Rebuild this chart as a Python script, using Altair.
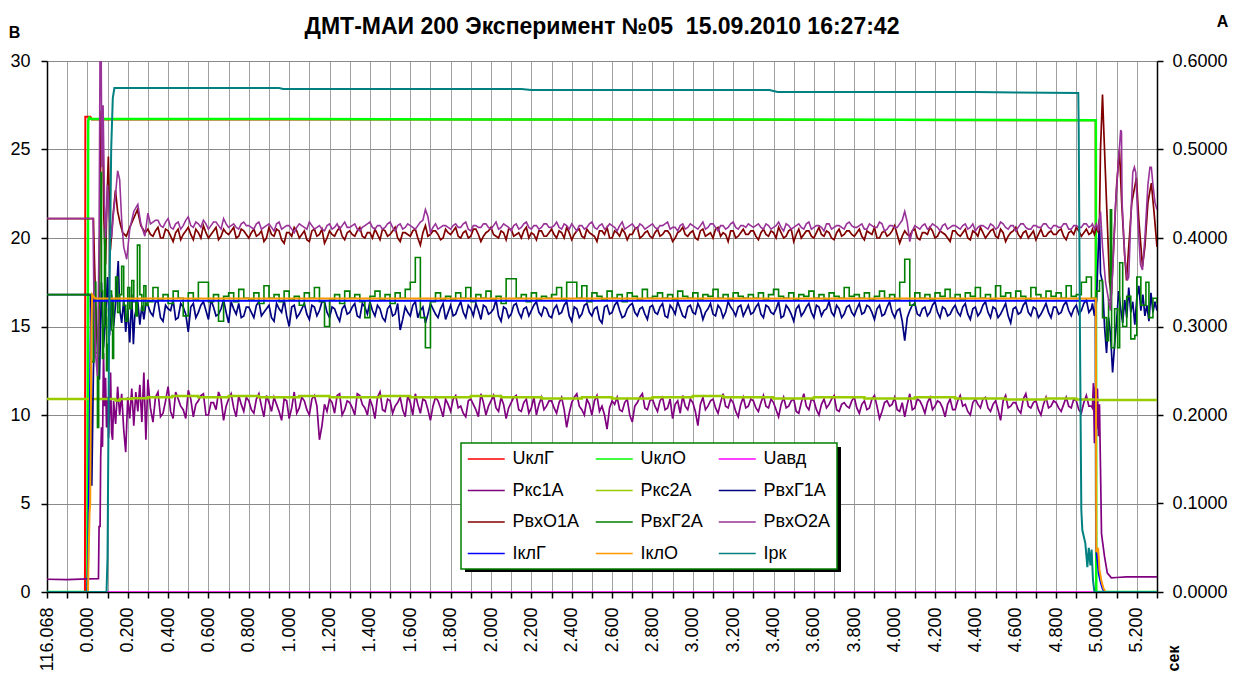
import json
import altair as alt
import pandas as pd

FONT = "Liberation Sans"
TITLE = "ДМТ-МАИ 200 Эксперимент №05\u00a0 15.09.2010 16:27:42"

NAMES = ["UклГ", "UклО", "Uавд", "Ркс1А", "Ркс2А", "РвхГ1А",
         "РвхО1А", "РвхГ2А", "РвхО2А", "IклГ", "IклО", "Iрк"]
COLORS = ["#FF0000", "#00FF00", "#FF00FF", "#800080", "#99CC00", "#000080",
          "#800000", "#008000", "#993399", "#0000FF", "#FF9900", "#008080"]
WIDTHS = [2, 2.5, 1.5, 1.7, 2.5, 1.7, 1.7, 1.6, 1.6, 2, 2, 2]
STEP_SERIES = ["Ркс2А", "РвхГ2А"]
RIGHT_SERIES = ["IклГ", "IклО", "Iрк"]

# x ticks (s) and the labels printed on them
X_TICKS = [round(-0.2 + 0.1 * i, 1) for i in range(56)]
X_LABEL_POS = [-0.2, 0.0, 0.2, 0.4, 0.6, 0.8, 1.0, 1.2, 1.4, 1.6, 1.8, 2.0, 2.2, 2.4,
               2.6, 2.8, 3.0, 3.2, 3.4, 3.6, 3.8, 4.0, 4.2, 4.4, 4.6, 4.8, 5.0, 5.2]
X_TICK_LABELS = ["116.068", "0.000", "0.200", "0.400", "0.600", "0.800", "1.000",
                 "1.200", "1.400", "1.600", "1.800", "2.000", "2.200", "2.400",
                 "2.600", "2.800", "3.000", "3.200", "3.400", "3.600", "3.800",
                 "4.000", "4.200", "4.400", "4.600", "4.800", "5.000", "5.200"]
Y_LEFT_TICKS = [0, 5, 10, 15, 20, 25, 30]
Y_RIGHT_TICKS = [0.0, 0.1, 0.2, 0.3, 0.4, 0.5, 0.6]

# ---- (t, value) points: start transients and end transients ----
UKLG = [(-0.2, 0), (-0.012, 0), (-0.01, 26.85), (0.015, 26.85), (0.022, 26.7),
        (2.5, 26.7), (4.996, 26.65), (4.998, 0), (5.3, 0)]
UKLO = [(-0.2, 0), (0.0, 0), (0.004, 26.6), (0.01, 26.8), (0.02, 26.72), (1.0, 26.72),
        (2.0, 26.7), (3.0, 26.7), (4.0, 26.68), (4.997, 26.65), (4.999, 0), (5.3, 0)]
UAVD = [(-0.2, 0), (5.3, 0)]
PKS2A = [(-0.2, 10.9), (0.14, 10.82), (0.16, 10.9), (0.22, 10.95), (0.3, 11.0), (0.42, 11.07),
         (0.55, 11.0), (0.7, 11.07), (0.85, 11.0), (1.05, 11.07), (1.2, 11.0), (1.45, 11.07),
         (1.6, 11.0), (1.9, 11.07), (2.05, 11.0), (2.25, 10.93), (2.45, 11.0), (2.6, 10.93),
         (2.8, 11.0), (3.0, 11.07), (3.15, 11.0), (3.4, 10.93), (3.6, 11.0), (3.85, 10.93),
         (4.1, 11.0), (4.3, 10.93), (4.55, 10.88), (4.75, 10.93), (4.9, 10.88), (5.0, 10.85),
         (5.3, 10.85)]
IKLG = [(-0.2, 0), (0.0, 0), (0.004, 0.04), (0.008, 0.12), (0.012, 0.2), (0.016, 0.28),
        (0.02, 0.318), (0.025, 0.329), (4.996, 0.329), (4.998, 0.05), (5.005, 0.035),
        (5.012, 0.02), (5.02, 0.012), (5.03, 0.004), (5.04, 0), (5.3, 0)]
IKLO = [(-0.2, 0), (0.003, 0), (0.007, 0.05), (0.011, 0.09), (0.014, 0.1), (0.017, 0.2),
        (0.02, 0.3), (0.024, 0.336), (0.03, 0.334), (0.04, 0.3316), (4.997, 0.3316),
        (4.999, 0.045), (5.008, 0.05), (5.015, 0.025), (5.025, 0.012), (5.035, 0.004),
        (5.045, 0), (5.3, 0)]
IRK = [(-0.2, 0), (0.095, 0), (0.1, 0.04), (0.108, 0.3), (0.118, 0.5), (0.126, 0.558),
       (0.134, 0.5695), (0.95, 0.5695), (0.97, 0.5684), (2.15, 0.5684), (2.2, 0.5672),
       (3.38, 0.5672), (3.42, 0.565), (4.4, 0.565), (4.6, 0.5645), (4.91, 0.5638),
       (4.912, 0.525), (4.918, 0.3), (4.925, 0.093), (4.93, 0.07), (4.945, 0.055),
       (4.955, 0.028), (4.962, 0.05), (4.97, 0.03), (4.976, 0.048), (4.983, 0.013),
       (4.99, 0.0), (5.3, 0)]

PKS1A_START = [(-0.2, 0.72), (-0.1, 0.7), (0.0, 0.74), (0.055, 0.75), (0.058, 3.7), (0.063, 3.7),
               (0.066, 7.6), (0.07, 9.3), (0.075, 8.2), (0.08, 13.5), (0.085, 10.5), (0.09, 12.1),
               (0.095, 9.3), (0.1, 11.0), (0.105, 8.7), (0.11, 10.2), (0.115, 12.4), (0.12, 9.0),
               (0.125, 8.6), (0.13, 10.8), (0.14, 9.5), (0.15, 11.6), (0.16, 10.0), (0.17, 11.2),
               (0.18, 9.2), (0.19, 7.9), (0.2, 11.0), (0.21, 9.8), (0.22, 11.5), (0.23, 9.4),
               (0.24, 11.3), (0.25, 10.2), (0.26, 11.7), (0.27, 9.6), (0.28, 12.4), (0.29, 8.6)]
PKS1A_END = [(4.98, 10.4), (4.985, 11.8), (4.99, 8.4), (4.995, 11.6), (5.0, 9.2), (5.005, 11.5),
             (5.01, 8.8), (5.015, 10.6), (5.02, 7.0), (5.025, 3.3), (5.04, 2.0), (5.054, 1.07),
             (5.074, 0.8), (5.1, 0.82), (5.15, 0.85), (5.2, 0.86), (5.25, 0.85), (5.3, 0.86)]
PVHG1A_START = [(-0.2, 16.8), (0.015, 16.8), (0.018, 10.0), (0.022, 6.0), (0.03, 12.5), (0.04, 16.2),
                (0.05, 14.0), (0.06, 12.0), (0.07, 17.5), (0.08, 13.8), (0.09, 15.5), (0.1, 17.8),
                (0.11, 14.5), (0.12, 16.8), (0.13, 15.0), (0.14, 16.3), (0.153, 18.7), (0.16, 16.0),
                (0.17, 15.2), (0.18, 16.5), (0.19, 14.7), (0.2, 16.0), (0.21, 14.1), (0.22, 16.8),
                (0.228, 14.0), (0.235, 15.6), (0.25, 16.4), (0.26, 15.1), (0.27, 16.2),
                (0.28, 15.4), (0.29, 16.3)]
PVHG1A_END = [(4.98, 16.3), (4.99, 15.6), (5.0, 16.4), (5.008, 19.0), (5.015, 21.1), (5.02, 18.0),
              (5.03, 17.5), (5.04, 15.0), (5.05, 13.5), (5.06, 15.5), (5.07, 14.5), (5.08, 12.4),
              (5.09, 14.0), (5.1, 15.3), (5.11, 17.0), (5.12, 16.0), (5.13, 15.2), (5.14, 16.5),
              (5.15, 15.5), (5.16, 17.2), (5.17, 15.8), (5.18, 16.4), (5.19, 15.1), (5.2, 16.6),
              (5.21, 17.3), (5.22, 15.9), (5.23, 16.8), (5.24, 15.6), (5.25, 16.2), (5.26, 15.3),
              (5.27, 16.9), (5.28, 15.8), (5.29, 16.4), (5.3, 15.9)]
PVHO1A_START = [(-0.2, 21.1), (0.03, 21.1), (0.035, 18.8), (0.045, 14.8), (0.055, 13.5),
                (0.062, 20.0), (0.068, 27.2), (0.075, 26.8), (0.082, 21.0), (0.09, 18.5),
                (0.097, 22.0), (0.104, 24.6), (0.109, 22.0), (0.114, 19.3), (0.125, 21.0),
                (0.139, 22.7), (0.15, 21.5), (0.163, 20.8), (0.175, 20.3), (0.193, 20.1),
                (0.21, 20.6), (0.225, 21.0), (0.248, 21.6), (0.265, 20.7), (0.287, 20.3)]
PVHO1A_END = [(4.98, 20.5), (4.99, 20.2), (5.0, 20.6), (5.01, 20.3), (5.015, 21.0), (5.02, 25.0),
              (5.03, 28.1), (5.035, 26.5), (5.05, 22.0), (5.065, 17.5), (5.074, 16.8),
              (5.085, 19.5), (5.1, 23.0), (5.114, 25.0), (5.125, 22.0), (5.14, 19.0),
              (5.149, 17.6), (5.16, 19.5), (5.175, 22.0), (5.198, 23.4), (5.21, 21.0),
              (5.228, 18.4), (5.24, 19.5), (5.255, 22.0), (5.272, 23.1), (5.285, 21.5), (5.3, 19.5)]
PVHO2A_START = [(-0.2, 21.1), (0.028, 21.1), (0.032, 17.0), (0.04, 13.5), (0.05, 12.2),
                (0.058, 20.0), (0.063, 31.0), (0.068, 31.0), (0.072, 24.0), (0.078, 27.5),
                (0.085, 22.0), (0.09, 20.0), (0.1, 23.0), (0.11, 21.0), (0.12, 20.0),
                (0.13, 21.5), (0.14, 22.5), (0.15, 23.8), (0.16, 23.3), (0.17, 21.0),
                (0.18, 19.5), (0.195, 18.8), (0.21, 20.5), (0.23, 21.5), (0.25, 21.9),
                (0.265, 20.8), (0.285, 20.1)]
PVHO2A_END = [(4.98, 20.8), (4.99, 20.5), (5.0, 20.8), (5.01, 20.4), (5.02, 21.5), (5.03, 19.5),
              (5.045, 17.5), (5.06, 16.5), (5.069, 15.9), (5.08, 18.0), (5.095, 22.0),
              (5.11, 24.5), (5.12, 26.1), (5.124, 26.0), (5.127, 22.0), (5.14, 19.0),
              (5.153, 17.6), (5.16, 17.8), (5.17, 21.0), (5.18, 23.7), (5.188, 24.0),
              (5.195, 23.7), (5.205, 21.0), (5.218, 18.5), (5.228, 18.2), (5.24, 20.0),
              (5.255, 23.0), (5.265, 24.0), (5.272, 24.0), (5.28, 23.0), (5.29, 22.0), (5.3, 21.6)]
PVHG2A_START = [(-0.2, 16.8), (0.02, 16.8), (0.022, 13.0), (0.032, 17.5), (0.042, 13.5),
                (0.05, 9.3), (0.056, 16.0), (0.06, 20.0), (0.065, 23.7), (0.07, 17.0),
                (0.075, 13.2), (0.08, 15.0), (0.085, 20.5), (0.09, 16.0), (0.095, 12.5),
                (0.1, 14.0), (0.105, 15.5), (0.11, 17.0), (0.12, 14.8), (0.125, 13.2),
                (0.13, 16.5), (0.14, 17.8), (0.15, 15.8), (0.16, 16.8), (0.17, 18.4),
                (0.18, 16.2), (0.19, 15.3), (0.2, 17.2), (0.21, 16.0), (0.22, 17.6),
                (0.23, 16.4), (0.24, 15.6), (0.248, 19.6), (0.26, 16.8), (0.27, 15.9),
                (0.28, 17.3), (0.29, 16.2)]
PVHG2A_END = [(4.99, 16.5), (5.0, 17.0), (5.015, 17.6), (5.03, 15.5), (5.05, 14.2), (5.06, 16.5),
              (5.069, 21.6), (5.075, 13.8), (5.09, 16.0), (5.105, 13.8), (5.115, 18.6),
              (5.13, 15.0), (5.15, 16.7), (5.17, 14.3), (5.19, 14.5), (5.2, 17.8), (5.22, 16.2),
              (5.245, 17.5), (5.26, 15.5), (5.28, 16.6), (5.3, 16.3)]

# ---- steady-run samples: RUN at 0.300 s + k*0.025 s, HALF at 0.3125 s + k*0.025 s ----
STEADY_T0 = 0.3
HALF_T0 = 0.3125
STEADY_DT = 0.025
PKS1A_RUN = [
    12.0, 9.6, 11.3, 10.1, 11.6, 9.8, 10.9, 10.3, 11.4, 9.9, 10.8, 11.2, 10.0, 10.7, 11.3, 9.7, 10.9, 10.4, 11.1, 10.2,
    10.8, 10.1, 11.2, 9.9, 10.7, 11.0, 10.2, 10.9, 9.8, 11.3, 10.4, 10.8, 10.0, 11.1, 8.6, 10.6, 10.9, 10.1, 11.2, 10.3,
    10.7, 10.0, 11.1, 10.4, 10.9, 9.8, 11.3, 10.2, 10.8, 10.5, 11.0, 9.9, 10.7, 11.2, 10.1, 10.8, 9.7, 11.0, 10.4, 10.9,
    10.2, 11.1, 10.5, 9.9, 10.9, 10.3, 11.2, 10.0, 10.8, 10.4, 11.0, 9.8, 10.7, 11.1, 10.2, 10.9, 10.4, 10.0, 11.0, 10.5,
    10.8, 10.1, 11.0, 9.3, 10.7, 11.2, 10.3, 10.9, 10.0, 11.1, 10.5, 9.2, 10.8, 11.0, 10.2, 10.9, 9.6, 10.7, 11.2, 10.3,
    10.9, 10.2, 11.0, 10.4, 9.8, 10.8, 11.1, 10.3, 10.7, 9.4, 11.0, 10.5, 10.9, 10.1, 11.2, 10.4, 10.7, 9.9, 11.0, 10.5,
    10.8, 10.2, 11.1, 10.4, 10.7, 9.9, 11.0, 10.5, 10.9, 10.1, 11.2, 10.3, 10.8, 10.0, 10.9, 10.6, 11.1, 10.2, 10.7, 10.4,
    11.0, 10.1, 10.8, 10.4, 11.1, 9.8, 10.7, 10.5, 11.0, 10.2, 9.9, 11.2, 10.4, 10.8, 10.1, 11.0, 10.5, 10.7, 9.9, 10.9,
    10.3, 11.1, 10.6, 10.0, 10.9, 10.4, 11.0, 10.2, 10.8, 9.7, 11.1, 10.5, 10.7, 10.1, 11.2, 10.4, 10.8, 10.0, 11.0, 10.5,
    10.7, 10.2, 11.0, 10.4, 10.8, 10.1, 11.1, 10.5]
PKS1A_HALF = [
    10.4, 11.0, 9.9, 10.8, 10.2, 11.3, 10.5, 9.8, 10.9, 10.6, 11.1, 10.0, 10.7, 10.3, 10.9, 10.5, 11.2, 9.9, 10.6, 11.0,
    10.3, 10.9, 10.5, 11.1, 10.2, 10.6, 9.7, 10.8, 10.4, 10.1, 11.0, 10.3, 10.9, 10.5, 9.4, 10.2, 10.7, 11.1, 10.0, 10.8,
    10.4, 11.2, 10.6, 10.0, 10.5, 11.0, 10.3, 10.9, 10.1, 10.7, 10.3, 11.1, 10.0, 10.6, 10.9, 10.3, 10.5, 10.8, 9.9, 10.6,
    10.9, 10.4, 10.1, 10.8, 10.6, 9.9, 10.7, 10.5, 11.1, 10.2, 10.6, 10.4, 11.0, 10.3, 10.7, 10.1, 11.0, 10.6, 10.3, 10.8,
    10.4, 10.7, 10.3, 10.1, 11.0, 10.5, 10.0, 10.6, 10.8, 10.2, 10.0, 10.4, 10.6, 10.3, 10.7, 10.0, 10.5, 11.0, 10.4, 10.8,
    10.5, 10.8, 10.3, 10.9, 10.6, 10.1, 10.5, 10.9, 10.2, 10.6, 10.3, 10.8, 10.4, 10.7, 10.5, 10.9, 10.2, 10.6, 10.4, 10.9,
    10.4, 10.7, 10.5, 10.9, 10.3, 10.6, 10.4, 10.8, 10.2, 10.7, 10.5, 10.9, 10.3, 10.6, 10.4, 10.9, 10.3, 10.6, 10.5, 10.8,
    10.4, 10.6, 10.3, 10.9, 10.5, 10.2, 10.8, 10.6, 10.3, 10.7, 10.6, 10.3, 10.9, 10.5, 10.7, 10.3, 10.8, 10.4, 10.6, 10.3,
    10.8, 10.5, 10.2, 10.7, 10.6, 10.9, 10.4, 10.6, 10.3, 10.8, 10.4, 10.7, 10.3, 10.9, 10.5, 10.7, 10.3, 10.6, 10.4, 10.8,
    10.4, 10.6, 10.5, 10.9, 10.3, 10.7, 10.5, 10.2]
PVHG1A_RUN = [
    16.2, 15.6, 16.4, 15.3, 16.0, 16.5, 15.5, 16.1, 14.7, 16.3, 15.8, 16.4, 15.4, 16.1, 15.7, 16.5, 15.2, 16.0, 16.3, 15.6,
    16.1, 15.5, 16.4, 15.8, 16.2, 15.3, 16.0, 16.5, 15.0, 16.2, 15.7, 16.3, 15.4, 16.1, 15.9, 16.4, 15.5, 16.0, 15.3, 16.2,
    15.8, 16.3, 15.5, 16.1, 16.4, 15.6, 16.0, 15.3, 16.2, 15.7, 14.8, 16.1, 15.6, 16.4, 15.9, 15.2, 16.3, 15.7, 16.0, 15.4,
    16.2, 15.7, 16.4, 15.5, 16.0, 16.3, 15.4, 16.1, 15.8, 16.5, 15.3, 16.0, 15.7, 16.3, 15.5, 16.1, 15.9, 16.4, 15.6, 16.0,
    15.5, 16.2, 15.8, 16.4, 15.3, 16.0, 15.7, 16.3, 15.6, 16.1, 15.2, 16.2, 15.8, 16.4, 15.5, 16.0, 16.3, 15.6, 16.1, 15.4,
    16.2, 15.7, 16.3, 15.5, 16.0, 16.4, 15.6, 16.1, 15.8, 16.3, 15.4, 16.0, 15.7, 16.2, 15.5, 16.4, 15.9, 16.1, 15.6, 16.2,
    15.8, 16.3, 15.5, 16.1, 15.7, 16.4, 15.6, 16.0, 15.3, 16.2, 15.8, 16.3, 15.5, 16.1, 15.9, 16.4, 15.6, 16.0, 15.7, 16.2,
    15.6, 16.3, 15.8, 16.1, 15.4, 16.2, 15.7, 16.4, 15.5, 16.0, 14.2, 15.9, 16.3, 15.6, 16.1, 15.8, 16.4, 15.5, 16.0, 15.7,
    16.2, 15.6, 16.3, 15.4, 16.1, 15.8, 16.4, 15.5, 16.0, 15.7, 16.3, 15.2, 16.1, 15.8, 16.4, 15.6, 16.0, 15.7, 16.3, 15.5,
    16.1, 15.8, 16.4, 15.6, 16.2, 15.9, 16.5, 16.0]
PVHG1A_HALF = [
    15.8, 16.4, 15.5, 16.2, 15.9, 15.4, 16.3, 15.7, 16.1, 15.5, 16.2, 15.9, 16.5, 15.6, 16.0, 15.8, 16.4, 15.7, 15.5, 16.1,
    15.8, 16.2, 15.6, 16.0, 15.5, 16.3, 15.8, 15.6, 16.1, 15.5, 16.0, 15.7, 16.2, 15.6, 16.4, 15.8, 16.1, 15.6, 16.0, 15.7,
    16.1, 15.6, 16.3, 15.7, 15.9, 16.2, 15.5, 16.0, 15.6, 16.3, 15.4, 15.8, 16.2, 15.5, 16.1, 15.7, 16.0, 15.5, 16.3, 15.8,
    15.6, 16.1, 15.8, 16.2, 15.6, 15.9, 16.2, 15.7, 16.0, 15.6, 16.1, 15.5, 16.2, 15.8, 16.0, 15.6, 16.2, 15.8, 16.1, 15.6,
    16.0, 15.7, 16.2, 15.6, 16.1, 15.5, 16.2, 15.8, 16.0, 15.4, 16.1, 15.7, 16.2, 15.9, 15.6, 16.2, 15.8, 16.0, 15.7, 16.1,
    15.8, 16.1, 15.6, 16.2, 15.7, 16.0, 15.5, 16.2, 15.7, 16.0, 15.8, 16.3, 15.6, 16.0, 15.8, 16.1, 15.6, 16.2, 15.9, 15.7,
    16.1, 15.7, 16.2, 15.8, 16.0, 15.5, 16.2, 15.7, 16.0, 15.6, 16.1, 15.8, 16.2, 15.6, 16.0, 15.8, 16.2, 15.5, 16.1, 15.8,
    16.0, 15.7, 16.2, 15.8, 16.0, 15.6, 16.1, 15.8, 15.9, 15.3, 15.5, 16.2, 15.7, 16.0, 15.6, 16.2, 15.8, 16.1, 15.6, 16.0,
    15.8, 16.1, 15.7, 16.0, 15.6, 16.2, 15.8, 16.1, 15.5, 16.0, 15.6, 16.0, 15.7, 16.2, 15.8, 16.1, 15.5, 16.0, 15.8, 16.1,
    15.7, 16.2, 15.9, 16.0, 15.7, 16.3, 15.8, 16.2]
PVHO1A_RUN = [
    20.5, 20.1, 20.6, 20.0, 20.4, 19.8, 20.5, 20.2, 20.6, 19.9, 20.3, 20.7, 20.0, 20.4, 19.9, 20.5, 20.2, 20.6, 20.1, 20.4,
    20.0, 20.5, 20.2, 19.8, 20.6, 20.1, 20.4, 19.7, 20.3, 20.6, 20.0, 20.4, 19.8, 20.5, 20.2, 19.7, 20.4, 20.1, 20.6, 19.9,
    20.4, 20.1, 20.6, 20.0, 20.3, 20.5, 19.9, 20.4, 20.2, 20.6, 19.8, 20.3, 20.1, 20.5, 19.6, 20.7, 20.2, 20.4, 19.9, 20.5,
    20.2, 20.6, 20.0, 20.4, 20.1, 20.5, 19.8, 20.3, 20.6, 20.1, 20.4, 19.9, 20.5, 20.2, 20.0, 20.6, 20.3, 19.9, 20.4, 20.1,
    20.5, 20.0, 20.3, 20.6, 19.9, 20.4, 20.1, 20.5, 20.2, 19.8, 20.4, 20.6, 20.0, 20.3, 20.5, 19.9, 20.2, 20.6, 20.1, 20.4,
    20.0, 20.5, 20.2, 20.4, 19.8, 20.3, 20.6, 20.1, 20.4, 19.9, 20.5, 20.2, 20.0, 20.6, 20.3, 19.8, 20.4, 20.1, 20.5, 20.2,
    20.4, 19.9, 20.5, 20.1, 20.3, 20.6, 20.0, 20.4, 19.8, 20.5, 20.2, 20.4, 20.0, 20.6, 20.1, 20.3, 19.9, 20.5, 20.2, 20.4,
    20.1, 20.5, 19.9, 20.3, 20.6, 20.0, 20.4, 20.2, 20.7, 19.7, 20.4, 20.1, 20.5, 19.9, 20.3, 20.6, 20.0, 20.4, 20.2, 19.8,
    20.4, 20.1, 20.5, 19.9, 20.3, 20.6, 20.0, 20.4, 20.1, 20.5, 19.8, 20.3, 20.6, 20.0, 20.4, 20.2, 19.9, 20.5, 20.1, 20.4,
    20.2, 20.5, 19.9, 20.4, 20.6, 20.1, 20.5, 20.3]
PVHO1A_HALF = [
    20.2, 20.4, 20.0, 20.5, 20.1, 20.3, 19.9, 20.4, 20.2, 20.5, 20.0, 20.3, 20.2, 20.6, 20.1, 20.3, 20.4, 20.0, 20.5, 20.2,
    20.3, 20.1, 20.4, 20.0, 20.2, 20.5, 19.9, 20.3, 20.1, 20.4, 20.2, 19.9, 20.4, 20.1, 20.5, 20.0, 20.2, 20.4, 20.1, 20.3,
    20.2, 20.4, 20.1, 20.3, 20.0, 20.2, 20.5, 20.1, 20.4, 20.0, 20.3, 20.2, 20.4, 20.0, 20.3, 20.1, 20.4, 20.2, 20.0, 20.3,
    20.4, 20.1, 20.3, 20.0, 20.5, 20.2, 20.1, 20.4, 20.2, 20.0, 20.3, 20.5, 20.1, 20.3, 20.4, 20.0, 20.2, 20.4, 20.1, 20.3,
    20.2, 20.4, 20.0, 20.3, 20.2, 20.5, 20.0, 20.3, 20.1, 20.4, 20.2, 20.0, 20.4, 20.1, 20.3, 20.2, 20.5, 20.0, 20.3, 20.1,
    20.3, 20.1, 20.4, 20.2, 20.0, 20.4, 20.2, 20.3, 20.0, 20.4, 20.1, 20.3, 20.5, 20.1, 20.2, 20.4, 20.0, 20.3, 20.2, 20.4,
    20.1, 20.3, 20.2, 20.4, 20.0, 20.3, 20.1, 20.5, 20.2, 20.0, 20.4, 20.1, 20.3, 20.2, 20.4, 20.0, 20.3, 20.1, 20.4, 20.2,
    20.3, 20.1, 20.4, 20.2, 20.0, 20.3, 20.1, 20.4, 20.2, 20.1, 20.2, 20.4, 20.0, 20.3, 20.2, 20.4, 20.1, 20.3, 20.0, 20.4,
    20.2, 20.3, 20.0, 20.4, 20.1, 20.3, 20.2, 20.5, 20.0, 20.3, 20.1, 20.4, 20.2, 20.3, 20.0, 20.4, 20.2, 20.1, 20.3, 20.2,
    20.4, 20.1, 20.3, 20.2, 20.4, 20.3, 20.2, 20.4]
PVHG2A_RUN = [
    16.4, 17.2, 16.5, 16.8, 16.3, 17.0, 16.6, 15.6, 16.9, 16.5, 17.5, 17.5, 16.4, 16.8, 15.3, 16.7, 16.9, 16.4, 17.1, 16.6,
    16.5, 16.9, 16.3, 17.3, 16.6, 16.8, 16.4, 17.0, 16.5, 16.7, 16.2, 16.9, 16.6, 17.2, 16.4, 15.0, 16.5, 16.8, 16.3, 17.0,
    16.6, 16.8, 16.4, 15.5, 16.7, 17.0, 16.5, 16.8, 16.3, 16.9, 16.6, 17.1, 17.5, 18.9, 15.5, 13.8, 16.4, 16.9, 16.5, 16.7,
    16.5, 16.9, 16.6, 17.2, 16.4, 16.8, 16.6, 17.0, 16.5, 16.7, 16.3, 17.7, 17.7, 16.6, 16.8, 16.4, 16.9, 16.5, 16.7, 16.6,
    16.8, 17.2, 16.5, 17.5, 17.5, 16.6, 17.3, 16.4, 16.9, 16.7, 16.5, 17.0, 16.6, 16.8, 16.4, 16.9, 16.7, 16.5, 17.1, 16.6,
    16.7, 16.9, 16.6, 16.8, 16.5, 17.0, 16.7, 16.6, 16.9, 16.5, 16.8, 16.7, 17.1, 16.6, 16.8, 16.5, 16.9, 16.7, 16.6, 16.8,
    16.6, 16.9, 16.5, 16.8, 17.1, 16.7, 16.6, 16.9, 16.5, 16.8, 16.7, 17.0, 16.6, 16.8, 16.5, 16.9, 16.7, 16.6, 17.2, 16.7,
    16.8, 16.6, 16.9, 16.5, 16.7, 17.0, 16.6, 16.8, 16.5, 17.5, 18.8, 16.2, 16.9, 16.6, 16.8, 16.5, 16.9, 16.7, 17.1, 16.6,
    16.8, 16.5, 16.9, 16.7, 17.2, 16.6, 16.8, 16.5, 17.3, 16.7, 16.9, 16.6, 17.0, 16.7, 16.5, 17.2, 16.8, 16.6, 17.0, 16.7,
    16.9, 16.6, 17.3, 16.7, 16.8, 17.5, 17.8, 16.6]
PVHO2A_RUN = [
    21.4, 20.9, 21.0, 20.6, 21.1, 20.5, 20.9, 20.7, 21.2, 20.6, 20.8, 21.0, 20.5, 20.9, 20.7, 21.1, 20.6, 20.8, 20.5, 20.9,
    20.7, 20.5, 20.9, 20.6, 20.8, 20.4, 20.9, 20.6, 20.7, 20.3, 20.8, 20.6, 20.9, 20.5, 20.7, 20.4, 20.8, 20.6, 20.5, 20.9,
    20.6, 20.8, 20.4, 20.7, 20.9, 20.5, 20.7, 20.6, 20.9, 20.4, 20.8, 20.6, 20.7, 20.5, 20.9, 21.6, 20.3, 20.8, 20.6, 20.7,
    20.5, 20.8, 20.6, 20.9, 20.4, 20.7, 20.6, 20.8, 20.5, 20.9, 20.6, 20.7, 20.4, 20.8, 20.6, 20.9, 20.5, 20.7, 20.6, 20.8,
    20.6, 20.9, 20.5, 20.7, 20.8, 20.4, 20.7, 20.6, 20.9, 20.5, 20.8, 20.6, 20.7, 20.4, 20.9, 20.6, 20.8, 20.5, 20.7, 20.6,
    20.8, 20.5, 20.7, 20.9, 20.6, 20.4, 20.8, 20.6, 20.7, 20.5, 20.9, 20.6, 20.8, 20.4, 20.7, 20.6, 20.9, 20.5, 20.7, 20.8,
    20.6, 20.8, 20.5, 20.7, 20.6, 20.9, 20.4, 20.7, 20.6, 20.8, 20.5, 20.9, 20.6, 20.7, 20.4, 20.8, 20.6, 20.7, 20.5, 20.9,
    20.6, 20.7, 20.5, 20.8, 20.6, 20.9, 20.4, 20.7, 20.6, 20.8, 21.5, 19.8, 20.7, 20.5, 20.8, 20.6, 20.7, 20.4, 20.8, 20.6,
    20.7, 20.5, 20.8, 20.6, 20.4, 20.7, 20.6, 20.8, 20.5, 20.9, 20.6, 20.7, 20.4, 20.8, 20.6, 20.5, 20.7, 20.6, 20.8, 20.5,
    20.7, 20.6, 20.8, 20.5, 20.7, 20.6, 20.8, 20.7]
PVHO2A_HALF = [
    20.8, 21.0, 20.7, 20.9, 20.6, 20.8, 20.5, 21.0, 20.7, 20.9, 20.6, 20.8, 20.7, 20.9, 20.5, 20.8, 20.7, 20.6, 20.8, 20.7,
    20.6, 20.8, 20.5, 20.7, 20.6, 20.8, 20.5, 20.7, 20.5, 20.6, 20.7, 20.5, 20.7, 20.6, 20.5, 20.7, 20.5, 20.8, 20.7, 20.6,
    20.7, 20.5, 20.6, 20.8, 20.6, 20.7, 20.5, 20.8, 20.6, 20.7, 20.5, 20.8, 20.6, 20.7, 21.0, 21.2, 20.6, 20.5, 20.7, 20.6,
    20.7, 20.6, 20.8, 20.5, 20.7, 20.6, 20.8, 20.6, 20.7, 20.5, 20.8, 20.6, 20.7, 20.5, 20.8, 20.6, 20.7, 20.5, 20.8, 20.6,
    20.7, 20.6, 20.8, 20.5, 20.6, 20.7, 20.5, 20.8, 20.6, 20.7, 20.5, 20.8, 20.6, 20.7, 20.5, 20.7, 20.6, 20.8, 20.5, 20.7,
    20.6, 20.7, 20.8, 20.5, 20.6, 20.7, 20.5, 20.8, 20.6, 20.7, 20.5, 20.8, 20.6, 20.7, 20.5, 20.8, 20.6, 20.7, 20.6, 20.7,
    20.7, 20.6, 20.8, 20.5, 20.7, 20.6, 20.8, 20.5, 20.7, 20.6, 20.8, 20.5, 20.7, 20.6, 20.8, 20.5, 20.7, 20.6, 20.8, 20.7,
    20.6, 20.8, 20.5, 20.7, 20.6, 20.8, 20.5, 20.7, 20.6, 21.0, 20.9, 20.4, 20.6, 20.7, 20.5, 20.8, 20.6, 20.7, 20.5, 20.7,
    20.6, 20.7, 20.5, 20.8, 20.6, 20.7, 20.5, 20.7, 20.6, 20.8, 20.5, 20.7, 20.6, 20.8, 20.5, 20.7, 20.6, 20.8, 20.6, 20.7,
    20.6, 20.8, 20.5, 20.7, 20.6, 20.8, 20.6, 20.7]


def join(start, end, run, half=None):
    t_start = start[-1][0]
    t_end = end[0][0]
    mid = [(round(STEADY_T0 + STEADY_DT * i, 4), v) for i, v in enumerate(run)]
    if half:
        mid += [(round(HALF_T0 + STEADY_DT * i, 4), v) for i, v in enumerate(half)]
    mid = sorted(p for p in mid if t_start < p[0] < t_end)
    return list(start) + mid + list(end)


SERIES = {
    "UклГ": UKLG,
    "UклО": UKLO,
    "Uавд": UAVD,
    "Ркс1А": join(PKS1A_START, PKS1A_END, PKS1A_RUN, PKS1A_HALF),
    "Ркс2А": PKS2A,
    "РвхГ1А": join(PVHG1A_START, PVHG1A_END, PVHG1A_RUN, PVHG1A_HALF),
    "РвхО1А": join(PVHO1A_START, PVHO1A_END, PVHO1A_RUN, PVHO1A_HALF),
    "РвхГ2А": join(PVHG2A_START, PVHG2A_END, PVHG2A_RUN),
    "РвхО2А": join(PVHO2A_START, PVHO2A_END, PVHO2A_RUN, PVHO2A_HALF),
    "IклГ": IKLG,
    "IклО": IKLO,
    "Iрк": IRK,
}

pos_tenths = [int(round(p * 10)) for p in X_LABEL_POS]
label_expr = (f"{json.dumps(X_TICK_LABELS)}[indexof({json.dumps(pos_tenths)}, "
              f"round(datum.value*10))] || ''")

x_axis = alt.Axis(
    values=X_TICKS, labelExpr=label_expr, labelAngle=-90, labelAlign="right",
    labelBaseline="middle", labelFlush=False, labelOverlap=False, labelFontSize=18,
    labelPadding=9, tickSize=6, grid=True, gridColor="#a0a0a0", gridWidth=1,
    title="сек", titleAngle=-90, titleAlign="center", titleBaseline="alphabetic",
    titleX=1131, titleY=66, titleFontSize=16, titleFontWeight="bold")
x_enc = alt.X("t:Q", scale=alt.Scale(domain=[-0.2, 5.3], nice=False, zero=False), axis=x_axis)

left_axis = alt.Axis(
    values=Y_LEFT_TICKS, labelFontSize=18, labelPadding=11, tickSize=6, grid=True,
    gridColor="#8a8a8a", gridWidth=1, title="В", titleAngle=0, titleAlign="center",
    titleBaseline="alphabetic", titleX=-33, titleY=-24, titleFontSize=16, titleFontWeight="bold")
right_axis = alt.Axis(
    orient="right", values=Y_RIGHT_TICKS, format=".4f", labelFontSize=18, labelPadding=9,
    tickSize=6, grid=False, title="А", titleAngle=0, titleAlign="center",
    titleBaseline="alphabetic", titleX=65, titleY=-35, titleFontSize=16, titleFontWeight="bold")

legend = alt.Legend(
    title=None, orient="none", legendX=414, legendY=382, columns=3, direction="horizontal",
    symbolType="M-1,0H3", symbolSize=342, symbolStrokeWidth=1.5, labelFontSize=18,
    labelOffset=25.5, fillColor="white", strokeColor="#008000", padding=6, rowPadding=12.5,
    columnPadding=12, zindex=1)
color_enc = alt.Color("s:N", scale=alt.Scale(domain=NAMES, range=COLORS), legend=legend)


def make_layer(name):
    df = pd.DataFrame(SERIES[name], columns=["t", "v"])
    df["s"] = name
    right = name in RIGHT_SERIES
    y_enc = alt.Y("v:Q",
                  scale=alt.Scale(domain=[0, 0.6] if right else [0, 30], nice=False, zero=False),
                  axis=right_axis if right else left_axis)
    return alt.Chart(df).mark_line(
        clip=True, strokeWidth=WIDTHS[NAMES.index(name)],
        interpolate="step-after" if name in STEP_SERIES else "linear",
    ).encode(x=x_enc, y=y_enc, color=color_enc)


left_layers = [make_layer(n) for n in NAMES if n not in RIGHT_SERIES]
right_layers = [make_layer(n) for n in NAMES if n in RIGHT_SERIES]

shadow = alt.Chart(pd.DataFrame({"k": [0]})).mark_rect(color="black").encode(
    x=alt.value(418), x2=alt.value(794), y=alt.value(386), y2=alt.value(511))

left_group = alt.layer(*left_layers)
right_group = alt.layer(*right_layers, shadow)

chart = alt.layer(left_group, right_group).resolve_scale(y="independent").properties(
    width=1110, height=531,
    title=alt.TitleParams(TITLE, font=FONT, fontSize=23, fontWeight="bold", offset=-26,
                          color="black", anchor="middle"),
    padding={"left": 39, "top": 53, "right": 76, "bottom": 81},
    autosize=alt.AutoSizeParams(type="none"),
).configure(font=FONT).configure_view(stroke="transparent").configure_axis(
    domainColor="black", domainWidth=1.5, tickColor="black", tickWidth=1.5,
    labelColor="black", labelFont=FONT, titleColor="black", titleFont=FONT,
).configure_legend(strokeWidth=1.5, labelFont=FONT, labelColor="black")

chart.save("out.html", embed_options={"renderer": "svg", "actions": False})
